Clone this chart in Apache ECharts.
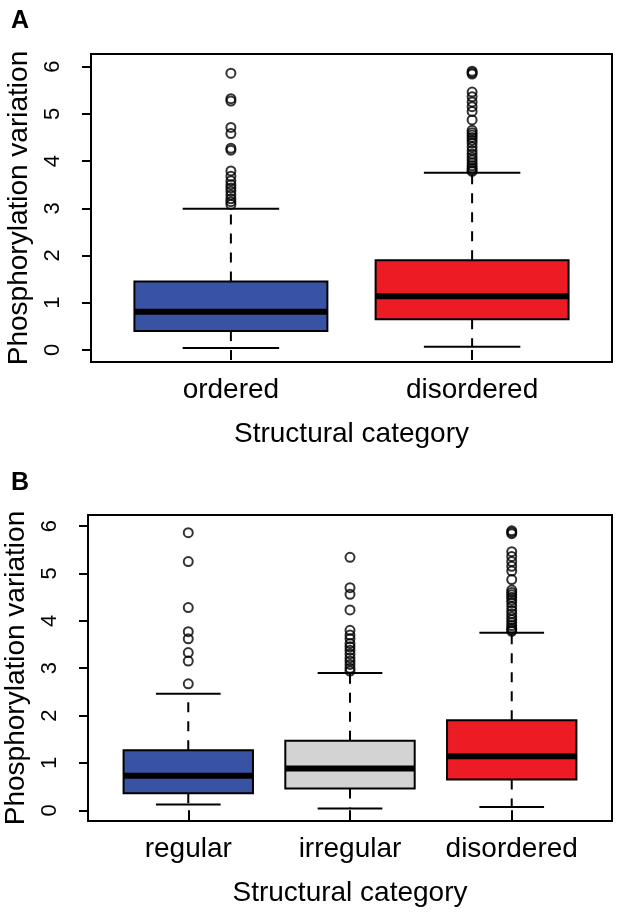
<!DOCTYPE html>
<html>
<head>
<meta charset="utf-8">
<title>Phosphorylation variation</title>
<script src="https://cdn.jsdelivr.net/npm/echarts@6/dist/echarts.min.js"></script>
<style>
  html, body { margin: 0; padding: 0; background: #fff; }
  #chart { width: 622px; height: 918px; }
</style>
</head>
<body>
<div id="chart"></div>
<script>
/*** 数据 ***/
var categoriesA = ['ordered', 'disordered'];
var categoriesB = ['regular', 'irregular', 'disordered'];
var yTicks = [0, 1, 2, 3, 4, 5, 6];

// [min, Q1, median, Q3, max]
var statsOrdered = [0.04, 0.40, 0.81, 1.45, 2.99];
var statsDisordered = [0.07, 0.65, 1.14, 1.90, 3.75];
var statsRegular = [0.12, 0.36, 0.73, 1.27, 2.46];
var statsIrregular = [0.04, 0.46, 0.88, 1.47, 2.90];

// 离群点
var outOrdered = [5.86, 5.32, 5.27, 4.71, 4.58, 4.27, 4.23, 3.79, 3.68, 3.58, 3.50, 3.43, 3.36, 3.28, 3.20, 3.14, 3.08];
var outDisordered = [5.90, 5.87, 5.84, 5.46, 5.36, 5.25, 5.15, 5.05, 4.87, 4.65, 4.60, 4.55, 4.50, 4.44, 4.38,
  4.30, 4.22, 4.15, 4.08, 4.02, 3.96, 3.90, 3.85, 3.81, 3.78];
var outRegular = [5.86, 5.25, 4.28, 3.77, 3.62, 3.33, 3.15, 2.67];
var outIrregular = [5.34, 4.70, 4.56, 4.23, 3.80, 3.70, 3.62, 3.52, 3.45, 3.38, 3.30, 3.22, 3.15, 3.08, 3.00, 2.94];

/*** 样式 ***/
var colorsA = ['#3953a4', '#ed1c24'];
var colorsB = ['#3953a4', '#d3d3d3', '#ed1c24'];
var FONT = "'Liberation Sans', Arial, sans-serif";
var BOX_HALF = 0.4;   // 箱体半宽（x轴单位）
var CAP_HALF = 0.2;   // 须端线半宽

function boxData(list) {
  return list.map(function (s, i) { return [i + 1].concat(s); });
}
function pointData(x, list) {
  return list.map(function (v) { return [x, v]; });
}

function makeRenderBox(colors) {
  return function (params, api) {
    var x = api.value(0);
    var lo = api.value(1), q1 = api.value(2), med = api.value(3), q3 = api.value(4), hi = api.value(5);
    var tl = api.coord([x - BOX_HALF, q3]);
    var br = api.coord([x + BOX_HALF, q1]);
    var mL = api.coord([x - BOX_HALF, med]);
    var mR = api.coord([x + BOX_HALF, med]);
    var pHi = api.coord([x, hi]), pLo = api.coord([x, lo]);
    var pQ3 = api.coord([x, q3]), pQ1 = api.coord([x, q1]);
    var hiL = api.coord([x - CAP_HALF, hi]), hiR = api.coord([x + CAP_HALF, hi]);
    var loL = api.coord([x - CAP_HALF, lo]), loR = api.coord([x + CAP_HALF, lo]);
    var dash = { stroke: '#000', lineWidth: 2, lineDash: [10, 9] };
    var solid = { stroke: '#000', lineWidth: 2 };
    return {
      type: 'group',
      children: [
        { type: 'line', shape: { x1: pQ3[0], y1: pQ3[1], x2: pHi[0], y2: pHi[1] }, style: dash },
        { type: 'line', shape: { x1: pQ1[0], y1: pQ1[1], x2: pLo[0], y2: pLo[1] }, style: dash },
        { type: 'line', shape: { x1: hiL[0], y1: hiL[1], x2: hiR[0], y2: hiR[1] }, style: solid },
        { type: 'line', shape: { x1: loL[0], y1: loL[1], x2: loR[0], y2: loR[1] }, style: solid },
        { type: 'rect', shape: { x: tl[0], y: tl[1], width: br[0] - tl[0], height: br[1] - tl[1] },
          style: { fill: colors[params.dataIndex], stroke: '#000', lineWidth: 2 } },
        { type: 'line', shape: { x1: mL[0], y1: mL[1], x2: mR[0], y2: mR[1] },
          style: { stroke: '#000', lineWidth: 6 } }
      ]
    };
  };
}

function xAxisOf(idx, names, min, max) {
  var vals = names.map(function (n, i) { return i + 1; });
  return {
    type: 'value', gridIndex: idx, min: min, max: max,
    axisLine: { show: false }, splitLine: { show: false },
    axisTick: { show: true, customValues: vals, length: 10, lineStyle: { color: '#000', width: 2 } },
    axisLabel: {
      customValues: vals, margin: 14, color: '#000', fontSize: 28, fontFamily: FONT,
      formatter: function (v) { return names[Math.round(v) - 1]; }
    },
    name: 'Structural category', nameLocation: 'middle', nameGap: 58,
    nameTextStyle: { color: '#000', fontSize: 28, fontFamily: FONT }
  };
}

function yAxisOf(idx, min, max) {
  return {
    type: 'value', gridIndex: idx, min: min, max: max,
    axisLine: { show: false }, splitLine: { show: false },
    axisTick: { show: true, customValues: yTicks, length: 9, lineStyle: { color: '#000', width: 2 } },
    axisLabel: { customValues: yTicks, rotate: 90, margin: 27, color: '#000', fontSize: 22, fontFamily: FONT },
    name: 'Phosphorylation variation', nameLocation: 'middle', nameGap: 58,
    nameTextStyle: { color: '#000', fontSize: 28, fontFamily: FONT }
  };
}

function outlierSeries(axisIdx, x, list) {
  return {
    type: 'scatter', xAxisIndex: axisIdx, yAxisIndex: axisIdx, silent: true,
    symbol: 'circle', symbolSize: 9,
    itemStyle: { color: 'transparent', borderColor: '#000', borderWidth: 2 },
    data: pointData(x, list)
  };
}

var myChart = echarts.init(document.getElementById('chart'), null, { renderer: 'canvas' });
var option = {
  animation: false,
  backgroundColor: '#fff',
  textStyle: { fontFamily: FONT },
  title: [
    { text: 'A', left: 6, top: 4, textStyle: { fontSize: 25, fontWeight: 'bold', color: '#000', fontFamily: FONT } },
    { text: 'B', left: 6, top: 466, textStyle: { fontSize: 25, fontWeight: 'bold', color: '#000', fontFamily: FONT } }
  ],
  grid: [
    { left: 91, top: 54, width: 521, height: 308, outerBoundsMode: 'none', containLabel: false,
      show: true, borderColor: '#000', borderWidth: 2, backgroundColor: 'transparent' },
    { left: 88, top: 515, width: 524, height: 306, outerBoundsMode: 'none', containLabel: false,
      show: true, borderColor: '#000', borderWidth: 2, backgroundColor: 'transparent' }
  ],
  xAxis: [
    xAxisOf(0, categoriesA, 0.42, 2.58),
    xAxisOf(1, categoriesB, 0.38, 3.62)
  ],
  yAxis: [
    yAxisOf(0, -0.254, 6.265),
    yAxisOf(1, -0.226, 6.234)
  ],
  series: [
    {
      type: 'custom', xAxisIndex: 0, yAxisIndex: 0, silent: true,
      renderItem: makeRenderBox(colorsA),
      encode: { x: 0, y: [1, 2, 3, 4, 5] },
      data: boxData([statsOrdered, statsDisordered])
    },
    outlierSeries(0, 1, outOrdered),
    outlierSeries(0, 2, outDisordered),
    {
      type: 'custom', xAxisIndex: 1, yAxisIndex: 1, silent: true,
      renderItem: makeRenderBox(colorsB),
      encode: { x: 0, y: [1, 2, 3, 4, 5] },
      data: boxData([statsRegular, statsIrregular, statsDisordered])
    },
    outlierSeries(1, 1, outRegular),
    outlierSeries(1, 2, outIrregular),
    outlierSeries(1, 3, outDisordered)
  ]
};
myChart.setOption(option);
</script>
</body>
</html>
